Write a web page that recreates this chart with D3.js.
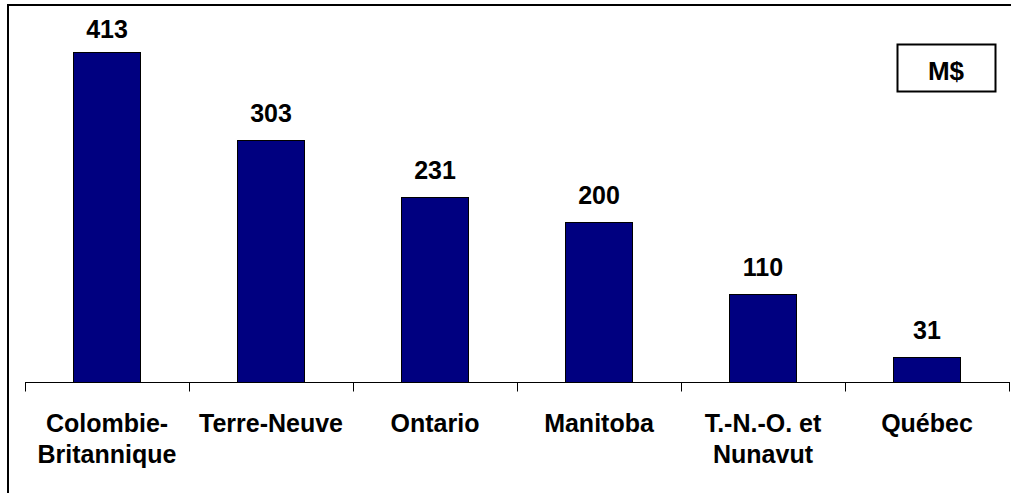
<!DOCTYPE html>
<html><head><meta charset="utf-8">
<script src="https://cdn.jsdelivr.net/npm/d3@7"></script>
<style>
html,body{margin:0;padding:0;background:#fff;}
svg{display:block;}
text{font-family:"Liberation Sans",Arial,sans-serif;font-weight:bold;fill:#000;}
</style></head>
<body>
<svg id="c" width="1011" height="493"></svg>
<script>
const categories = [["Colombie-","Britannique"],["Terre-Neuve"],["Ontario"],["Manitoba"],["T.-N.-O. et","Nunavut"],["Québec"]];
const values = [413, 303, 231, 200, 110, 31];
const unitLabel = "M$";

const svg = d3.select("#c");
const plot = {left: 25, right: 1009, base: 382, top: 22};

// outer frame (right/bottom edges fall outside the picture)
svg.append("rect").attr("x", 8).attr("y", 5).attr("width", 1020).attr("height", 520)
  .attr("fill", "none").attr("stroke", "#000").attr("stroke-width", 2);

const x = d3.scaleBand().domain(d3.range(categories.length))
  .range([plot.left, plot.right]).paddingInner(0.59).paddingOuter(0.295);
const xOuter = d3.scaleBand().domain(d3.range(categories.length)).range([plot.left, plot.right]);
const y = d3.scaleLinear().domain([0, 450]).range([plot.base, plot.top]);

// bars
svg.append("g").selectAll("rect").data(values).join("rect")
  .attr("x", (d, i) => Math.round(x(i)) + 0.5)
  .attr("y", d => Math.round(y(d)) + 0.5)
  .attr("width", Math.round(x.bandwidth()))
  .attr("height", d => Math.round(y(0)) - Math.round(y(d)))
  .attr("fill", "#000080").attr("stroke", "#000").attr("stroke-width", 1);

// value labels
svg.append("g").selectAll("text").data(values).join("text")
  .attr("x", (d, i) => xOuter(i) + xOuter.bandwidth() / 2)
  .attr("y", d => Math.max(y(d) - 18, 38))
  .attr("text-anchor", "middle").attr("font-size", 25)
  .text(d => d);

// axis
const axisG = svg.append("g").attr("transform", `translate(0,${plot.base + 0.5})`);
axisG.append("line").attr("x1", plot.left).attr("x2", plot.right + 1)
  .attr("stroke", "#000").attr("stroke-width", 1);
const tickPos = d3.range(categories.length + 1).map(i => i < categories.length ? xOuter(i) : plot.right);
axisG.selectAll("line.tick").data(tickPos).join("line").attr("class", "tick")
  .attr("x1", d => Math.round(d) + 0.5).attr("x2", d => Math.round(d) + 0.5)
  .attr("y1", 0).attr("y2", 9).attr("stroke", "#000").attr("stroke-width", 1);

// category labels
const lab = svg.append("g").selectAll("text").data(categories).join("text")
  .attr("text-anchor", "middle").attr("font-size", 25)
  .attr("x", (d, i) => xOuter(i) + xOuter.bandwidth() / 2)
  .attr("y", 432);
lab.selectAll("tspan").data(d => d).join("tspan")
  .attr("x", function () { return this.parentNode.getAttribute("x"); })
  .attr("dy", (d, j) => j === 0 ? 0 : 31)
  .text(d => d);

// unit box
svg.append("rect").attr("x", 897.5).attr("y", 44.5).attr("width", 98).attr("height", 47)
  .attr("fill", "#fff").attr("stroke", "#000").attr("stroke-width", 2);
svg.append("text").attr("x", 946).attr("y", 80).attr("text-anchor", "middle")
  .attr("font-size", 26).text(unitLabel);
</script>
</body></html>
